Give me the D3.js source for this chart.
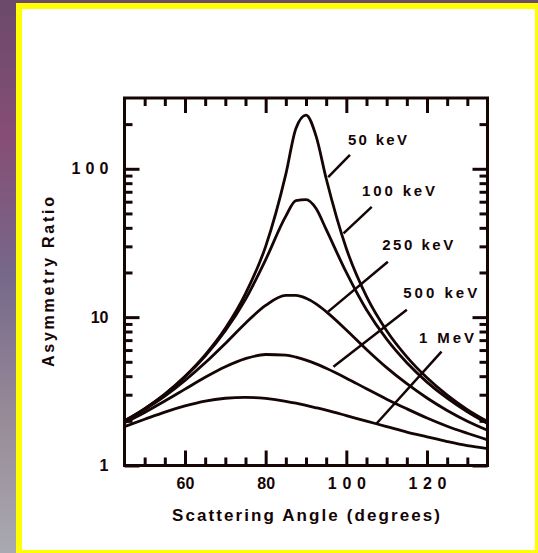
<!DOCTYPE html>
<html><head><meta charset="utf-8">
<script src="https://cdn.jsdelivr.net/npm/d3@7/dist/d3.min.js"></script>
<style>html,body{margin:0;padding:0;background:#6b4a6b;overflow:hidden}svg{display:block}</style>
</head><body>
<svg id="chart" width="538" height="553"></svg>
<script>
// ---- data ----
const angles = [45,50,55,60,65,70,75,80,85,87.5,90,92.5,95,100,105,110,115,120,125,130,135];
const ratio50keV  = [2.0,2.42,3.03,3.99,5.56,8.4,14.4,30,92,187,230,166,86,29,13.8,8.1,5.4,3.9,2.98,2.38,1.98];
const ratio100keV = [2.0,2.41,3.02,3.95,5.46,8.1,13.2,24.4,48,61,62,54,39,20,11.2,7.1,4.93,3.65,2.84,2.3,1.92];
const ratio250keV = [1.98,2.38,2.93,3.74,4.92,6.65,9.1,12.0,14.0,14.0,13.4,12.3,10.9,8.2,6.06,4.57,3.56,2.85,2.35,1.99,1.73];
const ratio500keV = [1.94,2.28,2.72,3.27,3.93,4.63,5.25,5.6,5.55,5.38,5.13,4.84,4.52,3.88,3.29,2.8,2.41,2.09,1.84,1.65,1.49];
const ratio1MeV   = [1.83,2.05,2.29,2.52,2.72,2.84,2.88,2.83,2.71,2.63,2.54,2.45,2.36,2.17,1.99,1.83,1.68,1.56,1.45,1.36,1.3];
const seriesNames = ["50 keV","100 keV","250 keV","500 keV","1 MeV"];
const seriesValues = [ratio50keV, ratio100keV, ratio250keV, ratio500keV, ratio1MeV];

const xMajorTicks = [60,80,100,120];
const xMinorTicks = [50,55,65,70,75,85,90,95,105,110,115,125,130];
const yMajorTicks = [1,10,100];
const yMinorTicks = [2,3,4,5,6,7,8,9,20,30,40,50,60,70,80,90,200];
const xTitle = "Scattering Angle (degrees)";
const yTitle = "Asymmetry Ratio";

// label anchors and leader lines, in data units (angle, ratio)
const labelAngle = [100.4,103.9,108.9,114.1,118.0];
const labelValue = [144,66,28.3,13.4,6.7];
const labelWidth = [59,73,71,74,55];
const leaderStartAngle = [100.9,106.3,110.3,115.0,123.6];
const leaderStartValue = [124,55.4,23.6,11.2,5.85];
const leaderEndAngle   = [95.5,99.3,95.5,96.8,107.5];
const leaderEndValue   = [88,36.7,10.9,4.63,1.92];

// ---- drawing ----
const ink = "#150505";
const svg = d3.select("#chart");
const defs = svg.append("defs");
const g1 = defs.append("linearGradient").attr("id","bg").attr("x1",0).attr("y1",0).attr("x2",0).attr("y2",1);
[[0,"#6b4a6b"],[0.25,"#864e76"],[0.5,"#76688a"],[0.75,"#978a98"],[1,"#a9a9b0"]]
  .forEach(([o,c]) => g1.append("stop").attr("offset",o).attr("stop-color",c));
svg.append("rect").attr("width",538).attr("height",553).attr("fill","url(#bg)");
svg.append("rect").attr("x",16).attr("y",3).attr("width",522).attr("height",550).attr("fill","#ffff00");
svg.append("rect").attr("x",22).attr("y",9).attr("width",513).attr("height",541).attr("fill","#ffffff");

const L = 124.5, R = 487.5, T = 98, B = 465.5;
const x = d3.scaleLinear().domain([45,135]).range([L,R]);
const y = d3.scaleLog().domain([1,300]).range([B,T]);

const fontFam = "'Liberation Sans', Arial, sans-serif";

function styleAxis(sel){
  sel.select(".domain").remove();
  sel.selectAll(".tick line").attr("stroke",ink).attr("stroke-width",3);
  sel.selectAll(".tick text").attr("fill",ink).attr("font-family",fontFam)
     .attr("font-size",16).attr("font-weight","bold");
}

// bottom axis
svg.append("g").attr("transform",`translate(0,${B})`)
  .call(d3.axisBottom(x).tickValues(xMinorTicks).tickSizeInner(-8).tickSizeOuter(0).tickFormat(""))
  .call(styleAxis);
const bx = svg.append("g").attr("transform",`translate(0,${B})`)
  .call(d3.axisBottom(x).tickValues(xMajorTicks).tickSizeInner(-15).tickSizeOuter(0).tickPadding(12).tickFormat(d3.format("d")))
  .call(styleAxis);
bx.selectAll(".tick text").attr("textLength", d => d >= 100 ? 38 : null).attr("lengthAdjust","spacing");
// top axis
svg.append("g").attr("transform",`translate(0,${T})`)
  .call(d3.axisTop(x).tickValues(xMinorTicks).tickSizeInner(-8).tickSizeOuter(0).tickFormat(""))
  .call(styleAxis);
svg.append("g").attr("transform",`translate(0,${T})`)
  .call(d3.axisTop(x).tickValues(xMajorTicks).tickSizeInner(-15).tickSizeOuter(0).tickFormat(""))
  .call(styleAxis);
// left axis
svg.append("g").attr("transform",`translate(${L},0)`)
  .call(d3.axisLeft(y).tickValues(yMinorTicks).tickSizeInner(-8).tickSizeOuter(0).tickFormat(""))
  .call(styleAxis);
const ly = svg.append("g").attr("transform",`translate(${L},0)`)
  .call(d3.axisLeft(y).tickValues(yMajorTicks).tickSizeInner(-15).tickSizeOuter(0).tickPadding(16).tickFormat(d3.format("d")))
  .call(styleAxis);
ly.selectAll(".tick text").attr("textLength", d => d >= 100 ? 37 : null).attr("lengthAdjust","spacing");
// right axis
svg.append("g").attr("transform",`translate(${R},0)`)
  .call(d3.axisRight(y).tickValues(yMinorTicks).tickSizeInner(-8).tickSizeOuter(0).tickFormat(""))
  .call(styleAxis);
svg.append("g").attr("transform",`translate(${R},0)`)
  .call(d3.axisRight(y).tickValues(yMajorTicks).tickSizeInner(-15).tickSizeOuter(0).tickFormat(""))
  .call(styleAxis);

// frame
svg.append("rect").attr("x",L).attr("y",T).attr("width",R-L).attr("height",B-T)
  .attr("fill","none").attr("stroke",ink).attr("stroke-width",3);

// curves
const line = d3.line().x(d => x(d[0])).y(d => y(d[1])).curve(d3.curveMonotoneX);
svg.append("g").selectAll("path").data(seriesValues).join("path")
  .attr("d", vals => line(angles.map((a,i) => [a, vals[i]])))
  .attr("fill","none").attr("stroke",ink).attr("stroke-width",2.8).attr("stroke-linejoin","round");

// leaders
svg.append("g").selectAll("line").data(seriesNames).join("line")
  .attr("x1",(d,i)=>x(leaderStartAngle[i])).attr("y1",(d,i)=>y(leaderStartValue[i]))
  .attr("x2",(d,i)=>x(leaderEndAngle[i])).attr("y2",(d,i)=>y(leaderEndValue[i]))
  .attr("stroke",ink).attr("stroke-width",2.5);

// labels
svg.append("g").selectAll("text").data(seriesNames).join("text")
  .attr("x",(d,i)=>x(labelAngle[i])).attr("y",(d,i)=>y(labelValue[i]))
  .attr("textLength",(d,i)=>labelWidth[i]).attr("lengthAdjust","spacing")
  .attr("font-family",fontFam).attr("font-size",15).attr("font-weight","bold").attr("fill",ink)
  .text(d=>d);

// axis titles
svg.append("text").attr("x",(L+R)/2).attr("y",521).attr("text-anchor","middle")
  .attr("textLength",268).attr("lengthAdjust","spacing")
  .attr("font-family",fontFam).attr("font-size",17).attr("font-weight","bold").attr("fill",ink)
  .text(xTitle);
svg.append("text").attr("transform","translate(54,282) rotate(-90)").attr("text-anchor","middle")
  .attr("textLength",170).attr("lengthAdjust","spacing")
  .attr("font-family",fontFam).attr("font-size",16).attr("font-weight","bold").attr("fill",ink)
  .text(yTitle);
</script>
</body></html>
